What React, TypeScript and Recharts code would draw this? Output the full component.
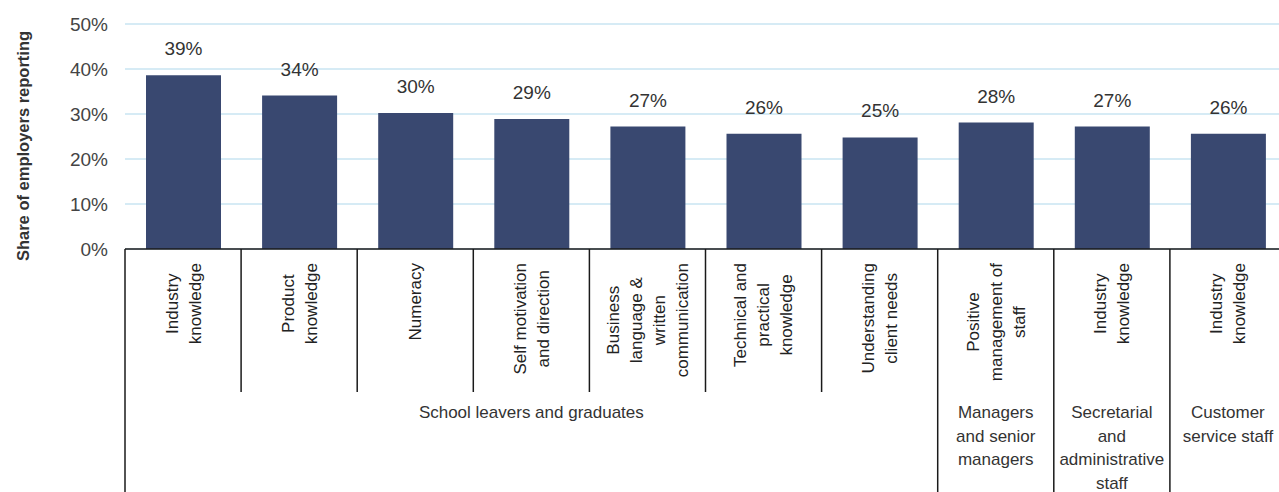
import React from 'react';
import { BarChart, Bar, XAxis, YAxis, CartesianGrid, LabelList } from 'recharts';

// skill names, one entry per line of the rotated label
const skills = [
  ['Industry', 'knowledge'],
  ['Product', 'knowledge'],
  ['Numeracy'],
  ['Self motivation', 'and direction'],
  ['Business', 'language &', 'written', 'communication'],
  ['Technical and', 'practical', 'knowledge'],
  ['Understanding', 'client needs'],
  ['Positive', 'management of', 'staff'],
  ['Industry', 'knowledge'],
  ['Industry', 'knowledge'],
];
const shares = [38.6, 34.1, 30.2, 28.9, 27.2, 25.6, 24.8, 28.1, 27.2, 25.6];
const groupLabels = [
  ['School leavers and graduates'],
  ['Managers', 'and senior', 'managers'],
  ['Secretarial', 'and', 'administrative', 'staff'],
  ['Customer', 'service staff'],
];
const groupSizes = [7, 1, 1, 1];
const yTicks = [0, 10, 20, 30, 40, 50];

const data = shares.map((v, i) => ({ id: `c${i}`, share: v }));

const FONT = '"Liberation Sans", Arial, sans-serif';
const W = 1286;
const H = 492;
const LEFT = 125;
const TOP = 24;
const AXIS_Y = 249;
const BAND = (W - LEFT) / skills.length;
const CAT_SIZE = 17;

const groupStarts = groupSizes.map((_, g) => groupSizes.slice(0, g).reduce((a, b) => a + b, 0));

let ctx: CanvasRenderingContext2D | null = null;
const measure = (s: string, size: number) => {
  if (!ctx) ctx = document.createElement('canvas').getContext('2d');
  if (!ctx) return s.length * size * 0.5;
  ctx.font = `${size}px "Liberation Sans"`;
  return ctx.measureText(s).width;
};

const CategoryTick = ({ x, index }: any) => {
  const lines = skills[index] || [];
  const left = x - BAND / 2;
  const g = groupStarts.indexOf(index);
  const maxW = Math.max(...lines.map((l) => measure(l, CAT_SIZE)));
  const cy = AXIS_Y + 14 + maxW / 2;
  const n = lines.length;
  return (
    <g>
      <line x1={left} x2={left} y1={AXIS_Y} y2={g >= 0 ? H : 392} stroke="#1a1a1a" strokeWidth={1.5} />
      {lines.map((l, i) => {
        const px = x + (i - (n - 1) / 2) * 23 + CAT_SIZE * 0.35;
        return (
          <text
            key={i}
            x={px}
            y={cy}
            transform={`rotate(-90, ${px}, ${cy})`}
            textAnchor="middle"
            fontSize={CAT_SIZE}
            fill="#222"
            fontFamily={FONT}
          >
            {l}
          </text>
        );
      })}
      {g >= 0 &&
        groupLabels[g].map((l, i) => (
          <text
            key={`g${i}`}
            x={left + (groupSizes[g] * BAND) / 2}
            y={418 + i * 23.5}
            textAnchor="middle"
            fontSize={17}
            fill="#333"
            fontFamily={FONT}
          >
            {l}
          </text>
        ))}
    </g>
  );
};

const YLabel = () => (
  <text
    x={29}
    y={146}
    transform="rotate(-90, 29, 146)"
    textAnchor="middle"
    fontSize={16.5}
    fontWeight="bold"
    fill="#333"
    fontFamily={FONT}
  >
    Share of employers reporting
  </text>
);

export default function App() {
  return (
    <div style={{ position: 'absolute', left: 0, top: 0, width: 1279, height: H, overflow: 'hidden', background: '#fff', fontFamily: FONT }}>
      <BarChart width={W} height={H} data={data} margin={{ top: TOP, right: 0, bottom: 0, left: 0 }}>
        <CartesianGrid vertical={false} stroke="#d6ebf5" strokeWidth={2} />
        <YAxis
          width={LEFT}
          domain={[0, 50]}
          ticks={yTicks}
          tickFormatter={(v: number) => `${v}%`}
          axisLine={false}
          tickLine={false}
          tickMargin={11}
          tick={{ fontSize: 19, fill: '#444', fontFamily: FONT }}
          label={{ content: () => <YLabel /> }}
        />
        <XAxis
          dataKey="id"
          height={H - AXIS_Y}
          interval={0}
          tickLine={false}
          axisLine={{ stroke: '#1a1a1a', strokeWidth: 1.5 }}
          tick={<CategoryTick />}
        />
        <Bar dataKey="share" fill="#394870" barSize={75} isAnimationActive={false}>
          <LabelList
            dataKey="share"
            position="top"
            offset={20}
            formatter={(v: any) => `${Math.round(Number(v))}%`}
            style={{ fontSize: 19, fill: '#333', fontFamily: FONT }}
          />
        </Bar>
      </BarChart>
    </div>
  );
}
